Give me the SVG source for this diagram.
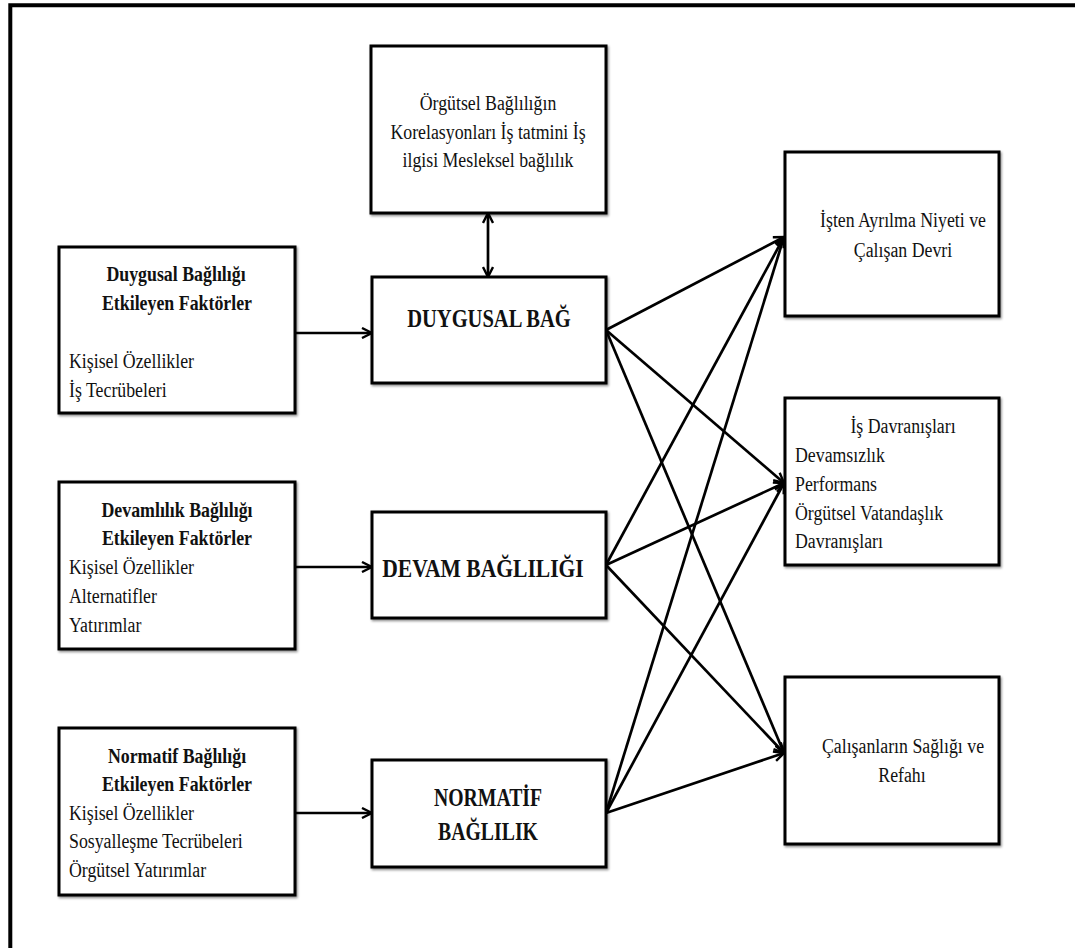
<svg xmlns="http://www.w3.org/2000/svg" width="1075" height="948" viewBox="0 0 1075 948">
  <style>
    .box { fill: #ffffff; stroke: #000000; stroke-width: 3; filter: url(#shade); }
    .link { fill: none; stroke: #000000; stroke-width: 2.7; marker-end: url(#head); }
    text { font-family: 'Liberation Serif', 'Times New Roman', serif; fill: #111111; }
    .t { font-size: 20px; }
    .h { font-size: 21px; font-weight: bold; }
    .big { font-size: 26px; font-weight: bold; }
    .mid { text-anchor: middle; }
  </style>
  <defs>
    <filter id="shade" x="-5%" y="-5%" width="112%" height="115%">
      <feDropShadow dx="1.2" dy="1.6" stdDeviation="0.8" flood-color="#000000" flood-opacity="0.45"/>
    </filter>
    <marker id="head" viewBox="0 0 12 12" refX="11" refY="6" markerWidth="12" markerHeight="12" markerUnits="userSpaceOnUse" orient="auto-start-reverse">
      <path d="M1,1 L11,6 L1,11" fill="none" stroke="#000000" stroke-width="2.4" stroke-linejoin="miter"/>
    </marker>
  </defs>

  <rect width="1075" height="948" fill="#ffffff"/>

  <!-- page frame (top and left edges) -->
  <path d="M10.3,948 V5.3 H1075" fill="none" stroke="#000000" stroke-width="4"/>

  <!-- connectors -->
  <g id="connectors">
    <line class="link" x1="488" y1="213" x2="488" y2="277" marker-start="url(#head)"/>
    <line class="link" x1="295" y1="333" x2="372" y2="333"/>
    <line class="link" x1="295" y1="567" x2="372" y2="567"/>
    <line class="link" x1="295" y1="813" x2="372" y2="813"/>
    <!-- DUYGUSAL BAĞ to outcomes -->
    <line class="link" x1="606" y1="330" x2="784" y2="237"/>
    <line class="link" x1="606" y1="330" x2="784" y2="483"/>
    <line class="link" x1="606" y1="330" x2="784" y2="753"/>
    <!-- DEVAM BAĞLILIĞI to outcomes -->
    <line class="link" x1="606" y1="565" x2="784" y2="237"/>
    <line class="link" x1="606" y1="565" x2="784" y2="483"/>
    <line class="link" x1="606" y1="565" x2="784" y2="753"/>
    <!-- NORMATİF BAĞLILIK to outcomes -->
    <line class="link" x1="606" y1="813" x2="784" y2="237"/>
    <line class="link" x1="606" y1="813" x2="784" y2="483"/>
    <line class="link" x1="606" y1="813" x2="784" y2="753"/>
  </g>

  <!-- text is set in a horizontally condensed face: scale(x, 1) per line -->
  <g id="correlates">
    <rect class="box" x="371" y="46" width="235" height="167"/>
    <text class="t mid" transform="translate(488,110) scale(0.89,1)">Örgütsel  Bağlılığın</text>
    <text class="t mid" transform="translate(488,139) scale(0.89,1)">Korelasyonları  İş tatmini İş</text>
    <text class="t mid" transform="translate(488,167) scale(0.89,1)">ilgisi Mesleksel bağlılık</text>
  </g>

  <g id="affective-factors">
    <rect class="box" x="59" y="247" width="236" height="166"/>
    <text class="h mid" transform="translate(176,281) scale(0.85,1)">Duygusal Bağlılığı</text>
    <text class="h mid" transform="translate(177,310) scale(0.85,1)">Etkileyen Faktörler</text>
    <text class="t" transform="translate(69,368) scale(0.89,1)">Kişisel Özellikler</text>
    <text class="t" transform="translate(69,397) scale(0.89,1)">İş Tecrübeleri</text>
  </g>

  <g id="continuance-factors">
    <rect class="box" x="59" y="482" width="236" height="167"/>
    <text class="h mid" transform="translate(177,517) scale(0.85,1)">Devamlılık Bağlılığı</text>
    <text class="h mid" transform="translate(177,545) scale(0.85,1)">Etkileyen Faktörler</text>
    <text class="t" transform="translate(69,574) scale(0.89,1)">Kişisel Özellikler</text>
    <text class="t" transform="translate(69,603) scale(0.89,1)">Alternatifler</text>
    <text class="t" transform="translate(69,632) scale(0.89,1)">Yatırımlar</text>
  </g>

  <g id="normative-factors">
    <rect class="box" x="59" y="728" width="236" height="167"/>
    <text class="h mid" transform="translate(177,763) scale(0.85,1)">Normatif Bağlılığı</text>
    <text class="h mid" transform="translate(177,791) scale(0.85,1)">Etkileyen Faktörler</text>
    <text class="t" transform="translate(69,820) scale(0.89,1)">Kişisel Özellikler</text>
    <text class="t" transform="translate(69,848) scale(0.89,1)">Sosyalleşme  Tecrübeleri</text>
    <text class="t" transform="translate(69,877) scale(0.89,1)">Örgütsel Yatırımlar</text>
  </g>

  <g id="affective">
    <rect class="box" x="372" y="277" width="234" height="106"/>
    <text class="big mid" transform="translate(489,327) scale(0.79,1)">DUYGUSAL BAĞ</text>
  </g>

  <g id="continuance">
    <rect class="box" x="372" y="512" width="234" height="106"/>
    <text class="big mid" transform="translate(483,577) scale(0.83,1)">DEVAM BAĞLILIĞI</text>
  </g>

  <g id="normative">
    <rect class="box" x="372" y="760" width="234" height="107"/>
    <text class="big mid" transform="translate(488,806) scale(0.76,1)">NORMATİF</text>
    <text class="big mid" transform="translate(488,840) scale(0.76,1)">BAĞLILIK</text>
  </g>

  <g id="turnover">
    <rect class="box" x="785" y="152" width="214" height="164"/>
    <text class="t mid" transform="translate(903,227) scale(0.89,1)">İşten Ayrılma  Niyeti ve</text>
    <text class="t mid" transform="translate(903,257) scale(0.89,1)">Çalışan  Devri</text>
  </g>

  <g id="work-behaviour">
    <rect class="box" x="785" y="398" width="214" height="167"/>
    <text class="t mid" transform="translate(903,433) scale(0.89,1)">İş Davranışları</text>
    <text class="t" transform="translate(795,462) scale(0.89,1)">Devamsızlık</text>
    <text class="t" transform="translate(795,491) scale(0.89,1)">Performans</text>
    <text class="t" transform="translate(795,520) scale(0.89,1)">Örgütsel  Vatandaşlık</text>
    <text class="t" transform="translate(795,548) scale(0.89,1)">Davranışları</text>
  </g>

  <g id="wellbeing">
    <rect class="box" x="785" y="677" width="214" height="167"/>
    <text class="t mid" transform="translate(903,753) scale(0.89,1)">Çalışanların  Sağlığı  ve</text>
    <text class="t mid" transform="translate(902,782) scale(0.89,1)">Refahı</text>
  </g>
</svg>
